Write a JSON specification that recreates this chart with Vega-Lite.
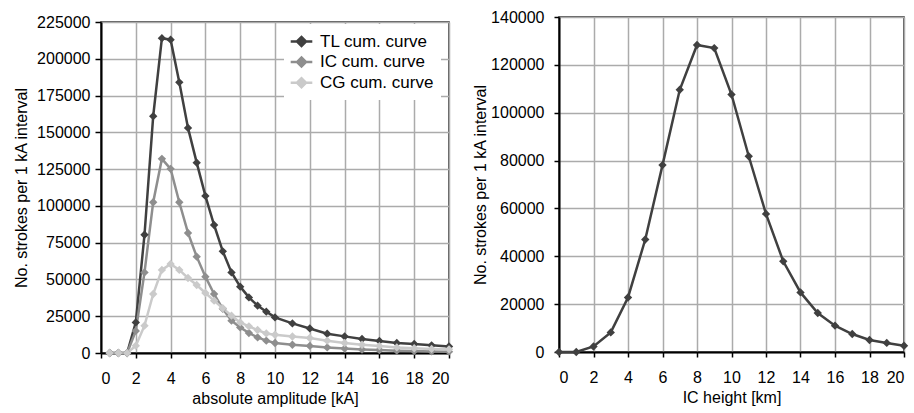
{
  "$schema": "https://vega.github.io/schema/vega-lite/v6.json",
  "padding": {"left": 12, "top": 7, "right": 5, "bottom": 5},
  "spacing": 16,
  "config": {
    "font": "Liberation Sans",
    "view": {"stroke": "#222222", "strokeWidth": 1.5},
    "axis": {
      "grid": true, "gridColor": "#ababab", "gridWidth": 1.5,
      "domainColor": "#000000", "domainWidth": 2,
      "tickColor": "#000000", "tickWidth": 1.5,
      "labelFontSize": 16, "labelColor": "#000000",
      "titleFontSize": 16, "titleFontWeight": "normal", "titleColor": "#000000"
    }
  },
  "resolve": {
    "scale": {"stroke": "independent", "fill": "independent"},
    "legend": {"stroke": "independent", "fill": "independent"}
  },
  "datasets": {
    "amp": [
      {"series": "TL cum. curve", "amplitude": 0.5, "strokes": 0},
      {"series": "TL cum. curve", "amplitude": 1, "strokes": 0},
      {"series": "TL cum. curve", "amplitude": 1.5, "strokes": 0},
      {"series": "TL cum. curve", "amplitude": 2, "strokes": 20800},
      {"series": "TL cum. curve", "amplitude": 2.5, "strokes": 80400},
      {"series": "TL cum. curve", "amplitude": 3, "strokes": 161000},
      {"series": "TL cum. curve", "amplitude": 3.5, "strokes": 214000},
      {"series": "TL cum. curve", "amplitude": 4, "strokes": 213000},
      {"series": "TL cum. curve", "amplitude": 4.5, "strokes": 184000},
      {"series": "TL cum. curve", "amplitude": 5, "strokes": 153000},
      {"series": "TL cum. curve", "amplitude": 5.5, "strokes": 129400},
      {"series": "TL cum. curve", "amplitude": 6, "strokes": 106800},
      {"series": "TL cum. curve", "amplitude": 6.5, "strokes": 87000},
      {"series": "TL cum. curve", "amplitude": 7, "strokes": 69100},
      {"series": "TL cum. curve", "amplitude": 7.5, "strokes": 54800},
      {"series": "TL cum. curve", "amplitude": 8, "strokes": 45100},
      {"series": "TL cum. curve", "amplitude": 8.5, "strokes": 37800},
      {"series": "TL cum. curve", "amplitude": 9, "strokes": 32200},
      {"series": "TL cum. curve", "amplitude": 9.5, "strokes": 28100},
      {"series": "TL cum. curve", "amplitude": 10, "strokes": 24200},
      {"series": "TL cum. curve", "amplitude": 11, "strokes": 20100},
      {"series": "TL cum. curve", "amplitude": 12, "strokes": 16700},
      {"series": "TL cum. curve", "amplitude": 13, "strokes": 13100},
      {"series": "TL cum. curve", "amplitude": 14, "strokes": 11300},
      {"series": "TL cum. curve", "amplitude": 15, "strokes": 9500},
      {"series": "TL cum. curve", "amplitude": 16, "strokes": 8200},
      {"series": "TL cum. curve", "amplitude": 17, "strokes": 6800},
      {"series": "TL cum. curve", "amplitude": 18, "strokes": 6100},
      {"series": "TL cum. curve", "amplitude": 19, "strokes": 5200},
      {"series": "TL cum. curve", "amplitude": 20, "strokes": 4500},
      {"series": "IC cum. curve", "amplitude": 0.5, "strokes": 0},
      {"series": "IC cum. curve", "amplitude": 1, "strokes": 0},
      {"series": "IC cum. curve", "amplitude": 1.5, "strokes": 0},
      {"series": "IC cum. curve", "amplitude": 2, "strokes": 15000},
      {"series": "IC cum. curve", "amplitude": 2.5, "strokes": 54800},
      {"series": "IC cum. curve", "amplitude": 3, "strokes": 102500},
      {"series": "IC cum. curve", "amplitude": 3.5, "strokes": 132000},
      {"series": "IC cum. curve", "amplitude": 4, "strokes": 125200},
      {"series": "IC cum. curve", "amplitude": 4.5, "strokes": 102500},
      {"series": "IC cum. curve", "amplitude": 5, "strokes": 81600},
      {"series": "IC cum. curve", "amplitude": 5.5, "strokes": 65500},
      {"series": "IC cum. curve", "amplitude": 6, "strokes": 51900},
      {"series": "IC cum. curve", "amplitude": 6.5, "strokes": 40100},
      {"series": "IC cum. curve", "amplitude": 7, "strokes": 30000},
      {"series": "IC cum. curve", "amplitude": 7.5, "strokes": 22000},
      {"series": "IC cum. curve", "amplitude": 8, "strokes": 17400},
      {"series": "IC cum. curve", "amplitude": 8.5, "strokes": 13600},
      {"series": "IC cum. curve", "amplitude": 9, "strokes": 10600},
      {"series": "IC cum. curve", "amplitude": 9.5, "strokes": 8400},
      {"series": "IC cum. curve", "amplitude": 10, "strokes": 6800},
      {"series": "IC cum. curve", "amplitude": 11, "strokes": 5600},
      {"series": "IC cum. curve", "amplitude": 12, "strokes": 4800},
      {"series": "IC cum. curve", "amplitude": 13, "strokes": 3800},
      {"series": "IC cum. curve", "amplitude": 14, "strokes": 3000},
      {"series": "IC cum. curve", "amplitude": 15, "strokes": 2400},
      {"series": "IC cum. curve", "amplitude": 16, "strokes": 2000},
      {"series": "IC cum. curve", "amplitude": 17, "strokes": 1600},
      {"series": "IC cum. curve", "amplitude": 18, "strokes": 1300},
      {"series": "IC cum. curve", "amplitude": 19, "strokes": 1100},
      {"series": "IC cum. curve", "amplitude": 20, "strokes": 900},
      {"series": "CG cum. curve", "amplitude": 0.5, "strokes": 0},
      {"series": "CG cum. curve", "amplitude": 1, "strokes": 0},
      {"series": "CG cum. curve", "amplitude": 1.5, "strokes": 0},
      {"series": "CG cum. curve", "amplitude": 2, "strokes": 5000},
      {"series": "CG cum. curve", "amplitude": 2.5, "strokes": 18600},
      {"series": "CG cum. curve", "amplitude": 3, "strokes": 40100},
      {"series": "CG cum. curve", "amplitude": 3.5, "strokes": 56500},
      {"series": "CG cum. curve", "amplitude": 4, "strokes": 60500},
      {"series": "CG cum. curve", "amplitude": 4.5, "strokes": 56500},
      {"series": "CG cum. curve", "amplitude": 5, "strokes": 51000},
      {"series": "CG cum. curve", "amplitude": 5.5, "strokes": 46200},
      {"series": "CG cum. curve", "amplitude": 6, "strokes": 40800},
      {"series": "CG cum. curve", "amplitude": 6.5, "strokes": 35600},
      {"series": "CG cum. curve", "amplitude": 7, "strokes": 30400},
      {"series": "CG cum. curve", "amplitude": 7.5, "strokes": 25400},
      {"series": "CG cum. curve", "amplitude": 8, "strokes": 20800},
      {"series": "CG cum. curve", "amplitude": 8.5, "strokes": 18100},
      {"series": "CG cum. curve", "amplitude": 9, "strokes": 15600},
      {"series": "CG cum. curve", "amplitude": 9.5, "strokes": 13300},
      {"series": "CG cum. curve", "amplitude": 10, "strokes": 12400},
      {"series": "CG cum. curve", "amplitude": 11, "strokes": 11200},
      {"series": "CG cum. curve", "amplitude": 12, "strokes": 10200},
      {"series": "CG cum. curve", "amplitude": 13, "strokes": 8400},
      {"series": "CG cum. curve", "amplitude": 14, "strokes": 6800},
      {"series": "CG cum. curve", "amplitude": 15, "strokes": 5600},
      {"series": "CG cum. curve", "amplitude": 16, "strokes": 4700},
      {"series": "CG cum. curve", "amplitude": 17, "strokes": 3800},
      {"series": "CG cum. curve", "amplitude": 18, "strokes": 3200},
      {"series": "CG cum. curve", "amplitude": 19, "strokes": 2800},
      {"series": "CG cum. curve", "amplitude": 20, "strokes": 2500}
    ],
    "ic": [
      {"height": 0, "strokes": 0},
      {"height": 1, "strokes": 0},
      {"height": 2, "strokes": 2300},
      {"height": 3, "strokes": 8200},
      {"height": 4, "strokes": 22800},
      {"height": 5, "strokes": 47000},
      {"height": 6, "strokes": 78100},
      {"height": 7, "strokes": 109600},
      {"height": 8, "strokes": 128300},
      {"height": 9, "strokes": 127000},
      {"height": 10, "strokes": 107600},
      {"height": 11, "strokes": 81800},
      {"height": 12, "strokes": 57700},
      {"height": 13, "strokes": 37900},
      {"height": 14, "strokes": 24900},
      {"height": 15, "strokes": 16300},
      {"height": 16, "strokes": 11000},
      {"height": 17, "strokes": 7500},
      {"height": 18, "strokes": 5000},
      {"height": 19, "strokes": 3800},
      {"height": 20, "strokes": 2600}
    ],
    "empty": []
  },
  "hconcat": [
    {
      "spacing": 0,
      "resolve": {
        "scale": {"stroke": "independent", "fill": "independent"},
        "legend": {"stroke": "independent", "fill": "independent"}
      },
      "vconcat": [
        {
          "width": 10,
          "height": 6,
          "view": {"stroke": null},
          "data": {"name": "empty"},
          "mark": "point"
        },
        {
          "width": 348,
          "height": 331,
          "data": {"name": "amp"},
          "encoding": {
            "x": {
              "field": "amplitude", "type": "quantitative",
              "scale": {"domain": [0, 20], "nice": false},
              "axis": {"values": [0, 2, 4, 6, 8, 10, 12, 14, 16, 18, 20], "title": "absolute amplitude [kA]", "tickSize": 5, "labelPadding": 12, "titlePadding": 4}
            },
            "y": {
              "field": "strokes", "type": "quantitative",
              "scale": {"domain": [0, 225000], "nice": false},
              "axis": {"values": [0, 25000, 50000, 75000, 100000, 125000, 150000, 175000, 200000, 225000], "format": "d", "title": "No. strokes per 1 kA interval", "tickSize": 6, "labelPadding": 5, "titlePadding": 7}
            }
          },
          "layer": [
            {
              "mark": {"type": "line", "strokeWidth": 2.5},
              "encoding": {
                "stroke": {
                  "field": "series", "type": "nominal",
                  "scale": {"domain": ["TL cum. curve", "IC cum. curve", "CG cum. curve"], "range": ["#404040", "#8e8e8e", "#cacaca"]},
                  "legend": {
                    "orient": "none", "legendX": 183, "legendY": 2, "title": null,
                    "fillColor": "#ffffff", "padding": 7,
                    "symbolType": "M-1.2,0H1.2M-0.5,0L0,-0.5L0.5,0L0,0.5Z",
                    "symbolSize": 324, "symbolStrokeWidth": 2.5,
                    "labelFontSize": 17, "labelOffset": 8, "rowPadding": 0.6, "labelColor": "#000000"
                  }
                }
              }
            },
            {
              "mark": {"type": "point", "shape": "diamond", "filled": true, "size": 70, "opacity": 1},
              "encoding": {
                "fill": {
                  "field": "series", "type": "nominal",
                  "scale": {"domain": ["TL cum. curve", "IC cum. curve", "CG cum. curve"], "range": ["#404040", "#8e8e8e", "#cacaca"]},
                  "legend": {
                    "orient": "none", "legendX": 183, "legendY": 2, "title": null,
                    "fillColor": "#ffffff", "padding": 7,
                    "symbolType": "M-1.2,0H1.2M-0.5,0L0,-0.5L0.5,0L0,0.5Z",
                    "symbolSize": 324, "symbolStrokeWidth": 2.5,
                    "labelFontSize": 17, "labelOffset": 8, "rowPadding": 0.6, "labelColor": "#000000"
                  }
                }
              }
            }
          ]
        }
      ]
    },
    {
      "spacing": 0,
      "vconcat": [
        {
          "width": 10,
          "height": 1,
          "view": {"stroke": null},
          "data": {"name": "empty"},
          "mark": "point"
        },
        {
          "width": 345,
          "height": 335,
          "data": {"name": "ic"},
          "encoding": {
            "x": {
              "field": "height", "type": "quantitative",
              "scale": {"domain": [0, 20], "nice": false},
              "axis": {"values": [0, 2, 4, 6, 8, 10, 12, 14, 16, 18, 20], "title": "IC height [km]", "tickSize": 5, "labelPadding": 12, "titlePadding": 4}
            },
            "y": {
              "field": "strokes", "type": "quantitative",
              "scale": {"domain": [0, 140000], "nice": false},
              "axis": {"values": [0, 20000, 40000, 60000, 80000, 100000, 120000, 140000], "format": "d", "title": "No. strokes per 1 kA interval", "tickSize": 5, "labelPadding": 10, "titlePadding": 2}
            }
          },
          "layer": [
            {"mark": {"type": "line", "color": "#404040", "strokeWidth": 2.5}},
            {"mark": {"type": "point", "shape": "diamond", "filled": true, "size": 70, "opacity": 1, "color": "#404040"}}
          ]
        }
      ]
    }
  ]
}
